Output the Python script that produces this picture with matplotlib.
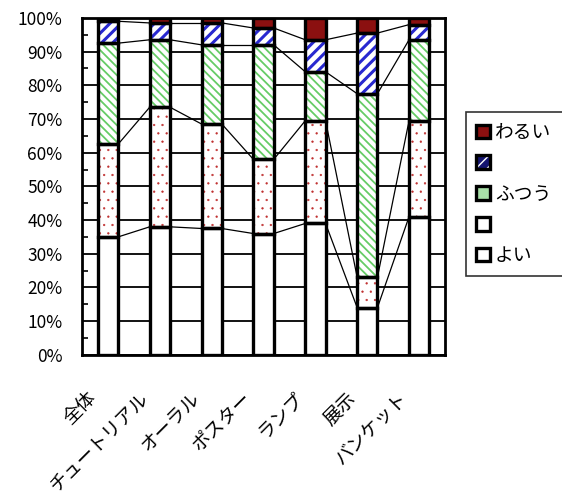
import numpy as np
import matplotlib as mpl
import matplotlib.pyplot as plt
import matplotlib.transforms as mtransforms
from matplotlib.ticker import MultipleLocator, PercentFormatter

plt.rcParams['font.family'] = ['Noto Sans CJK JP', 'DejaVu Sans']

categories = ['全体', 'チュートリアル', 'オーラル', 'ポスター', 'ランプ', '展示', 'バンケット']
# percentages per rating, bottom to top
yoi = [35, 38, 37.5, 36, 39, 14, 41]
yaya_yoi = [27.5, 35.5, 31, 22, 30.5, 9, 28.5]
futsuu = [30, 20, 23.5, 34, 14.5, 54.5, 24]
yaya_warui = [6.5, 5, 6.5, 5, 9.5, 18, 4.5]
warui = [1, 1.5, 1.5, 3, 6.5, 4.5, 2]

# label, values, face, hatch, hatch colour, hatch linewidth
series = [
    ('よい', yoi, 'white', None, 'white', 1),
    ('', yaya_yoi, 'white', '..', '#c03030', 0.4),
    ('ふつう', futsuu, 'white', '\\\\\\\\', '#66cc66', 1.3),
    ('', yaya_warui, 'white', '///', '#2828d0', 2.2),
    ('わるい', warui, '#8b1010', None, '#8b1010', 1),
]
legend_faces = ['white', 'white', '#a8e0a8', '#141470', '#8b1010']
legend_hatch = [None, None, None, '///', None]

fig = plt.figure(figsize=(5.62, 4.97), dpi=100)
ax = fig.add_axes([0.146, 0.286, 0.646, 0.678])

x = np.arange(len(categories))
w = 0.39
bottom = np.zeros(len(categories))
handles = []
for k, (label, vals, face, hatch, hcol, hlw) in enumerate(series):
    vals = np.array(vals, dtype=float)
    with mpl.rc_context({'hatch.linewidth': hlw}):
        ax.bar(x, vals, w, bottom=bottom, color=face, hatch=hatch,
               edgecolor=hcol, linewidth=0, zorder=3)
    ax.bar(x, vals, w, bottom=bottom, fill=False, edgecolor='black',
           linewidth=2.4, zorder=4)
    top = bottom + vals
    # series lines between bars
    for i in range(len(categories) - 1):
        ax.plot([x[i] + w / 2, x[i + 1] - w / 2], [top[i], top[i + 1]],
                color='black', linewidth=0.9, zorder=2)
    bottom = top
    # legend key: filled square (hatch in white) plus black outline
    with mpl.rc_context({'hatch.linewidth': 1.5}):
        fillp = plt.Rectangle((0, 0), 1, 1, facecolor=legend_faces[k],
                              hatch=legend_hatch[k], edgecolor='white', linewidth=0.1)
    outline = plt.Rectangle((0, 0), 1, 1, fill=False, edgecolor='black', linewidth=2.4)
    handles.append(((fillp, outline), label))

ax.set_xlim(-0.5, len(categories) - 0.5)
ax.set_ylim(0, 100)
ax.yaxis.set_major_locator(MultipleLocator(10))
ax.yaxis.set_minor_locator(MultipleLocator(5))
ax.yaxis.set_major_formatter(PercentFormatter(decimals=0))
ax.grid(axis='y', which='major', color='black', linewidth=1.3, zorder=1)
ax.tick_params(axis='y', which='major', length=0, labelsize=12.5, pad=14)
ax.tick_params(axis='y', which='minor', length=4, width=1.2, direction='in')
ax.set_xticks(x)
ax.set_xticklabels(categories, rotation=45, ha='right', va='top',
                   rotation_mode='anchor', fontsize=13.5)
ax.tick_params(axis='x', length=0, pad=0)
shift = mtransforms.ScaledTranslation(-22 / 100, -33 / 100, fig.dpi_scale_trans)
for t in ax.get_xticklabels():
    t.set_transform(t.get_transform() + shift)
for s in ax.spines.values():
    s.set_linewidth(2)
    s.set_zorder(5)

handles = handles[::-1]
leg = fig.legend([h for h, _ in handles], [l for _, l in handles],
                 loc='upper left', bbox_to_anchor=(0.829, 0.775, 0.3, 0),
                 mode='expand', borderaxespad=0,
                 frameon=True, fancybox=False, edgecolor='black', fontsize=13.5,
                 handlelength=0.75, handleheight=0.75, labelspacing=0.52,
                 handletextpad=0.25, borderpad=0.55)
leg.get_frame().set_linewidth(1.2)

fig.savefig('out.png', dpi=100, facecolor='white')
